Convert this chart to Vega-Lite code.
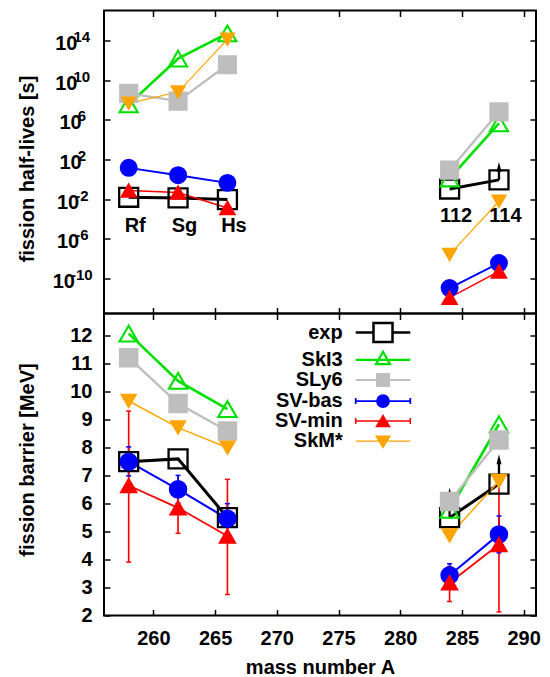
{
  "$schema": "https://vega.github.io/schema/vega-lite/v6.json",
  "padding": {"left": 16, "top": 8.5, "right": 10, "bottom": 2},
  "spacing": 0,
  "bounds": "flush",
  "datasets": {
    "hl": [
      {"A": 258, "s": "exp", "g": "L", "v": 0.0158},
      {"A": 262, "s": "exp", "g": "L", "v": 0.0135},
      {"A": 266, "s": "exp", "g": "L", "v": 0.0093},
      {"A": 284, "s": "exp", "g": "R", "v": 0.107},
      {"A": 288, "s": "exp", "g": "R", "v": 0.89},
      {"A": 258, "s": "SkI3", "g": "L", "v": 3.55e7},
      {"A": 262, "s": "SkI3", "g": "L", "v": 1.41e12},
      {"A": 266, "s": "SkI3", "g": "L", "v": 5.0e14},
      {"A": 284, "s": "SkI3", "g": "R", "v": 1.23},
      {"A": 288, "s": "SkI3", "g": "R", "v": 4.27e5},
      {"A": 258, "s": "SLy6", "g": "L", "v": 4.57e8},
      {"A": 262, "s": "SLy6", "g": "L", "v": 7.59e7},
      {"A": 266, "s": "SLy6", "g": "L", "v": 3.47e11},
      {"A": 284, "s": "SLy6", "g": "R", "v": 8.51},
      {"A": 288, "s": "SLy6", "g": "R", "v": 6.31e6},
      {"A": 258, "s": "SV-bas", "g": "L", "v": 14.5},
      {"A": 262, "s": "SV-bas", "g": "L", "v": 2.63},
      {"A": 266, "s": "SV-bas", "g": "L", "v": 0.447},
      {"A": 284, "s": "SV-bas", "g": "R", "v": 1.15e-11},
      {"A": 288, "s": "SV-bas", "g": "R", "v": 3.8e-9},
      {"A": 258, "s": "SV-min", "g": "L", "v": 0.0759},
      {"A": 262, "s": "SV-min", "g": "L", "v": 0.0479},
      {"A": 266, "s": "SV-min", "g": "L", "v": 0.00135},
      {"A": 284, "s": "SV-min", "g": "R", "v": 1.26e-12},
      {"A": 288, "s": "SV-min", "g": "R", "v": 5.5e-10},
      {"A": 258, "s": "SkM*", "g": "L", "v": 4.47e7},
      {"A": 262, "s": "SkM*", "g": "L", "v": 6.17e8},
      {"A": 266, "s": "SkM*", "g": "L", "v": 1.26e14},
      {"A": 284, "s": "SkM*", "g": "R", "v": 2.69e-8},
      {"A": 288, "s": "SkM*", "g": "R", "v": 0.00631}
    ],
    "fb": [
      {"A": 258, "s": "exp", "g": "L", "v": 7.5},
      {"A": 262, "s": "exp", "g": "L", "v": 7.6},
      {"A": 266, "s": "exp", "g": "L", "v": 5.5},
      {"A": 284, "s": "exp", "g": "R", "v": 5.5},
      {"A": 288, "s": "exp", "g": "R", "v": 6.7},
      {"A": 258, "s": "SkI3", "g": "L", "v": 12.08},
      {"A": 262, "s": "SkI3", "g": "L", "v": 10.39},
      {"A": 266, "s": "SkI3", "g": "L", "v": 9.38},
      {"A": 284, "s": "SkI3", "g": "R", "v": 5.78},
      {"A": 288, "s": "SkI3", "g": "R", "v": 8.84},
      {"A": 258, "s": "SLy6", "g": "L", "v": 11.22},
      {"A": 262, "s": "SLy6", "g": "L", "v": 9.58},
      {"A": 266, "s": "SLy6", "g": "L", "v": 8.6},
      {"A": 284, "s": "SLy6", "g": "R", "v": 6.08},
      {"A": 288, "s": "SLy6", "g": "R", "v": 8.28},
      {"A": 258, "s": "SV-bas", "g": "L", "v": 7.5, "lo": 6.99, "hi": 8.03},
      {"A": 262, "s": "SV-bas", "g": "L", "v": 6.51, "lo": 6.01, "hi": 7.01},
      {"A": 266, "s": "SV-bas", "g": "L", "v": 5.46, "lo": 4.94, "hi": 6.0},
      {"A": 284, "s": "SV-bas", "g": "R", "v": 3.44, "lo": 3.04, "hi": 3.85},
      {"A": 288, "s": "SV-bas", "g": "R", "v": 4.9, "lo": 4.24, "hi": 5.56},
      {"A": 258, "s": "SV-min", "g": "L", "v": 6.65, "lo": 3.91, "hi": 9.31},
      {"A": 262, "s": "SV-min", "g": "L", "v": 5.85, "lo": 4.94, "hi": 6.75},
      {"A": 266, "s": "SV-min", "g": "L", "v": 4.84, "lo": 2.75, "hi": 6.87},
      {"A": 284, "s": "SV-min", "g": "R", "v": 3.17, "lo": 2.5, "hi": 3.75},
      {"A": 288, "s": "SV-min", "g": "R", "v": 4.54, "lo": 2.13, "hi": 6.95},
      {"A": 258, "s": "SkM*", "g": "L", "v": 9.67},
      {"A": 262, "s": "SkM*", "g": "L", "v": 8.72},
      {"A": 266, "s": "SkM*", "g": "L", "v": 8.0},
      {"A": 284, "s": "SkM*", "g": "R", "v": 4.86},
      {"A": 288, "s": "SkM*", "g": "R", "v": 6.81}
    ],
    "arrT": [{"A": 288, "v": 0.89, "tip": 18.2}],
    "arrB": [{"A": 284, "v": 5.5, "tip": 6.39}, {"A": 288, "v": 6.7, "tip": 7.59}],
    "lab": [
      {"A": 258, "t": "Rf", "g": "L"},
      {"A": 262, "t": "Sg", "g": "L"},
      {"A": 266, "t": "Hs", "g": "L"},
      {"A": 284, "t": "112", "g": "R"},
      {"A": 288, "t": "114", "g": "R"}
    ]
  },
  "vconcat": [
    {
      "width": 432,
      "height": 303,
      "data": {"name": "hl"},
      "encoding": {
        "x": {"field": "A", "type": "quantitative", "scale": {"domain": [256, 291], "nice": false, "zero": false}, "axis": null}
      },
      "layer": [
        {
          "mark": {"type": "line"},
          "encoding": {
            "x": {"field": "A", "type": "quantitative", "scale": {"domain": [256, 291], "nice": false, "zero": false},
              "axis": {"orient": "bottom", "values": [260, 265, 270, 275, 280, 285, 290], "labels": false, "title": null}},
            "y": {"field": "v", "type": "quantitative", "scale": {"type": "log", "domain": [3.16e-14, 1e17], "nice": false},
              "axis": {"orient": "left", "values": [1e-10, 1e-6, 0.01, 100, 1e6, 1e10, 1e14],
                "labelExpr": "'10'", "minExtent": 60, "maxExtent": 60, "labelOffset": 3,
                "labelPadding": {"condition": [{"test": "datum.value > 1e9", "value": 33}, {"test": "datum.value > 1", "value": 28.85}, {"test": "datum.value > 1e-8", "value": 31.35}], "value": 35.5},
                "title": "fission half-lives [s]", "titleX": -77, "titleY": 158, "titleAngle": 270, "titleBaseline": "middle", "titleAlign": "center"}},
            "color": {"field": "s", "type": "nominal", "scale": {"domain": ["exp", "SkI3", "SLy6", "SV-bas", "SV-min", "SkM*"], "range": ["#000000", "#00e000", "#bebebe", "#0000ff", "#ff0000", "#ffa500"]}, "legend": null},
            "strokeWidth": {"field": "s", "type": "nominal", "scale": {"domain": ["exp", "SkI3", "SLy6", "SV-bas", "SV-min", "SkM*"], "range": [3, 1.2, 1.5, 1.2, 2.8, 3]}, "legend": null},
            "detail": {"field": "g"}
          }
        },
        {
          "mark": {"type": "point", "opacity": 0},
          "encoding": {
            "y": {"field": "v", "type": "quantitative", "scale": {"type": "log", "domain": [3.16e-14, 1e17], "nice": false},
              "axis": {"orient": "left", "values": [1e-10, 1e-6, 0.01, 100, 1e6, 1e10, 1e14],
                "labelExpr": "replace(format(round(log(datum.value)/LN10), 'd'), '−', '-')", "labelFontSize": 15, "minExtent": 60, "maxExtent": 60, "ticks": false, "labelOffset": -4,
                "labelPadding": {"condition": [{"test": "datum.value > 1e9", "value": 14.3}, {"test": "datum.value > 1", "value": 18.5}, {"test": "datum.value > 1e-8", "value": 16}], "value": 11.8},
                "title": null}}
          }
        },
        {
          "data": {"name": "arrT"},
          "mark": {"type": "rule", "color": "black", "strokeWidth": 2.3},
          "encoding": {
            "y": {"field": "v", "type": "quantitative", "scale": {"type": "log", "domain": [3.16e-14, 1e17], "nice": false}, "axis": null},
            "y2": {"field": "tip"}
          }
        },
        {
          "data": {"name": "arrT"},
          "mark": {"type": "point", "shape": "M0,-1L-0.5,1L0.5,1Z", "filled": true, "color": "black", "size": 100, "opacity": 1},
          "encoding": {"y": {"field": "tip", "type": "quantitative", "scale": {"type": "log", "domain": [3.16e-14, 1e17], "nice": false}, "axis": null}}
        },
        {
          "mark": {"type": "point", "opacity": 1, "filled": false},
          "encoding": {
            "y": {"field": "v", "type": "quantitative", "scale": {"type": "log", "domain": [3.16e-14, 1e17], "nice": false}, "axis": null},
            "shape": {"field": "s", "type": "nominal", "scale": {"domain": ["exp", "SkI3", "SLy6", "SV-bas", "SV-min", "SkM*"], "range": ["square", "triangle-up", "square", "circle", "triangle-up", "triangle-down"]}, "legend": null},
            "fill": {"field": "s", "type": "nominal", "scale": {"domain": ["exp", "SkI3", "SLy6", "SV-bas", "SV-min", "SkM*"], "range": ["transparent", "transparent", "#bebebe", "#0000ff", "#ff0000", "#ffa500"]}, "legend": null},
            "color": {"field": "s", "type": "nominal", "scale": {"domain": ["exp", "SkI3", "SLy6", "SV-bas", "SV-min", "SkM*"], "range": ["#000000", "#00e000", "#bebebe", "#0000ff", "#ff0000", "#ffa500"]}, "legend": null},
            "size": {"field": "s", "type": "nominal", "scale": {"domain": ["exp", "SkI3", "SLy6", "SV-bas", "SV-min", "SkM*"], "range": [360, 200, 130, 110, 150, 165]}, "legend": null},
            "strokeWidth": {"field": "s", "type": "nominal", "scale": {"domain": ["exp", "SkI3", "SLy6", "SV-bas", "SV-min", "SkM*"], "range": [2.3, 1.3, 1, 1, 1, 1]}, "legend": null}
          }
        },
        {
          "data": {"name": "lab"},
          "transform": [{"filter": "datum.g == 'L'"}],
          "mark": {"type": "text", "font": "Liberation Sans", "fontSize": 20, "fontWeight": "bold", "dx": 6.5, "baseline": "middle", "color": "black"},
          "encoding": {"y": {"datum": 1.9e-5, "type": "quantitative", "scale": {"type": "log", "domain": [3.16e-14, 1e17], "nice": false}, "axis": null}, "text": {"field": "t"}}
        },
        {
          "data": {"name": "lab"},
          "transform": [{"filter": "datum.g == 'R'"}],
          "mark": {"type": "text", "font": "Liberation Sans", "fontSize": 20, "fontWeight": "bold", "dx": 6.5, "baseline": "middle", "color": "black"},
          "encoding": {"y": {"datum": 1.95e-4, "type": "quantitative", "scale": {"type": "log", "domain": [3.16e-14, 1e17], "nice": false}, "axis": null}, "text": {"field": "t"}}
        },
        {
          "mark": {"type": "point", "opacity": 0},
          "encoding": {
            "x": {"field": "A", "type": "quantitative", "scale": {"domain": [256, 291], "nice": false, "zero": false},
              "axis": {"orient": "top", "values": [260, 265, 270, 275, 280, 285, 290], "labels": false, "title": null}},
            "y": {"field": "v", "type": "quantitative", "scale": {"type": "log", "domain": [3.16e-14, 1e17], "nice": false},
              "axis": {"orient": "right", "values": [1e-10, 1e-6, 0.01, 100, 1e6, 1e10, 1e14], "labels": false, "title": null}}
          }
        }
      ],
      "resolve": {"axis": {"x": "independent", "y": "independent"}, "scale": {"strokeWidth": "independent"}}
    },
    {
      "width": 432,
      "height": 302,
      "data": {"name": "fb"},
      "encoding": {
        "x": {"field": "A", "type": "quantitative", "scale": {"domain": [256, 291], "nice": false, "zero": false}, "axis": null}
      },
      "layer": [
        {
          "transform": [{"filter": "isValid(datum.lo)"}],
          "mark": {"type": "rule"},
          "encoding": {
            "y": {"field": "lo", "type": "quantitative", "scale": {"domain": [2, 12.8], "nice": false, "zero": false}, "axis": null},
            "y2": {"field": "hi"},
            "color": {"field": "s", "type": "nominal", "scale": {"domain": ["exp", "SkI3", "SLy6", "SV-bas", "SV-min", "SkM*", "-"], "range": ["#000000", "#00e000", "#bebebe", "#0000ff", "#ff0000", "#ffa500", "#000000"]}, "legend": null},
            "strokeWidth": {"field": "s", "type": "nominal", "scale": {"domain": ["exp", "SkI3", "SLy6", "SV-bas", "SV-min", "SkM*", "-"], "range": [2.5, 1.2, 1.3, 1.2, 2.5, 2.2, 1]}, "legend": null}
          }
        },
        {
          "transform": [{"filter": "isValid(datum.lo)"}],
          "mark": {"type": "point", "shape": "stroke", "size": 25, "opacity": 1, "strokeWidth": 1.5, "filled": false},
          "encoding": {
            "y": {"field": "lo", "type": "quantitative", "scale": {"domain": [2, 12.8], "nice": false, "zero": false}, "axis": null},
            "color": {"field": "s", "type": "nominal", "scale": {"domain": ["exp", "SkI3", "SLy6", "SV-bas", "SV-min", "SkM*", "-"], "range": ["#000000", "#00e000", "#bebebe", "#0000ff", "#ff0000", "#ffa500", "#000000"]}, "legend": null}
          }
        },
        {
          "transform": [{"filter": "isValid(datum.lo)"}],
          "mark": {"type": "point", "shape": "stroke", "size": 25, "opacity": 1, "strokeWidth": 1.5, "filled": false},
          "encoding": {
            "y": {"field": "hi", "type": "quantitative", "scale": {"domain": [2, 12.8], "nice": false, "zero": false}, "axis": null},
            "color": {"field": "s", "type": "nominal", "scale": {"domain": ["exp", "SkI3", "SLy6", "SV-bas", "SV-min", "SkM*", "-"], "range": ["#000000", "#00e000", "#bebebe", "#0000ff", "#ff0000", "#ffa500", "#000000"]}, "legend": null}
          }
        },
        {
          "mark": {"type": "line"},
          "encoding": {
            "x": {"field": "A", "type": "quantitative", "scale": {"domain": [256, 291], "nice": false, "zero": false},
              "axis": {"orient": "bottom", "values": [260, 265, 270, 275, 280, 285, 290], "labelBaseline": "alphabetic", "labelPadding": 35,
                "title": "mass number A", "titleY": 58, "titleBaseline": "alphabetic"}},
            "y": {"field": "v", "type": "quantitative", "scale": {"domain": [2, 12.8], "nice": false, "zero": false},
              "axis": {"orient": "left", "values": [2, 3, 4, 5, 6, 7, 8, 9, 10, 11, 12], "labelPadding": 18, "minExtent": 60, "maxExtent": 60,
                "title": "fission barrier [MeV]", "titleX": -77, "titleY": 146, "titleAngle": 270, "titleBaseline": "middle", "titleAlign": "center"}},
            "color": {"field": "s", "type": "nominal", "scale": {"domain": ["exp", "SkI3", "SLy6", "SV-bas", "SV-min", "SkM*", "-"], "range": ["#000000", "#00e000", "#bebebe", "#0000ff", "#ff0000", "#ffa500", "#000000"]}, "legend": null},
            "strokeWidth": {"field": "s", "type": "nominal", "scale": {"domain": ["exp", "SkI3", "SLy6", "SV-bas", "SV-min", "SkM*", "-"], "range": [3, 1.2, 1.5, 1.2, 2.8, 3, 1]}, "legend": null},
            "detail": {"field": "g"}
          }
        },
        {
          "data": {"name": "arrB"},
          "mark": {"type": "rule", "color": "black", "strokeWidth": 2.3},
          "encoding": {
            "y": {"field": "v", "type": "quantitative", "scale": {"domain": [2, 12.8], "nice": false, "zero": false}, "axis": null},
            "y2": {"field": "tip"}
          }
        },
        {
          "data": {"name": "arrB"},
          "mark": {"type": "point", "shape": "M0,-1L-0.5,1L0.5,1Z", "filled": true, "color": "black", "size": 100, "opacity": 1},
          "encoding": {"y": {"field": "tip", "type": "quantitative", "scale": {"domain": [2, 12.8], "nice": false, "zero": false}, "axis": null}}
        },
        {
          "mark": {"type": "point", "opacity": 1, "filled": false},
          "encoding": {
            "y": {"field": "v", "type": "quantitative", "scale": {"domain": [2, 12.8], "nice": false, "zero": false}, "axis": null},
            "shape": {"field": "s", "type": "nominal", "scale": {"domain": ["exp", "SkI3", "SLy6", "SV-bas", "SV-min", "SkM*", "-"], "range": ["square", "triangle-up", "square", "circle", "triangle-up", "triangle-down", "circle"]}, "legend": null},
            "fill": {"field": "s", "type": "nominal", "scale": {"domain": ["exp", "SkI3", "SLy6", "SV-bas", "SV-min", "SkM*", "-"], "range": ["transparent", "transparent", "#bebebe", "#0000ff", "#ff0000", "#ffa500", "#000000"]}, "legend": null},
            "color": {"field": "s", "type": "nominal", "scale": {"domain": ["exp", "SkI3", "SLy6", "SV-bas", "SV-min", "SkM*", "-"], "range": ["#000000", "#00e000", "#bebebe", "#0000ff", "#ff0000", "#ffa500", "#000000"]}, "legend": null},
            "size": {"field": "s", "type": "nominal", "scale": {"domain": ["exp", "SkI3", "SLy6", "SV-bas", "SV-min", "SkM*", "-"], "range": [360, 200, 130, 110, 150, 165, 100]}, "legend": null},
            "strokeWidth": {"field": "s", "type": "nominal", "scale": {"domain": ["exp", "SkI3", "SLy6", "SV-bas", "SV-min", "SkM*", "-"], "range": [2.3, 1.3, 1, 1, 1, 1, 1]}, "legend": null}
          }
        },
        {
          "mark": {"type": "point", "opacity": 0, "filled": false},
          "encoding": {
            "y": {"field": "v", "type": "quantitative", "scale": {"domain": [2, 12.8], "nice": false, "zero": false}, "axis": null},
            "shape": {"field": "s", "type": "nominal",
              "scale": {"domain": ["exp", "SkI3", "SLy6", "SV-bas", "SV-min", "SkM*"], "range": [
                "M-5.46,0H-1.9M1.9,0H5.46M-1.9,-1.9H1.9V1.9H-1.9Z",
                "M-5.46,0H5.46M0,-1.6L1.4,0.87H-1.4Z",
                "M-5.46,0H5.46M-1.2,-1.2H1.2V1.2H-1.2Z",
                "M-5.46,0H5.46M-5.46,-0.6V0.6M5.46,-0.6V0.6M-1.2,0A1.2,1.2,0,1,0,1.2,0A1.2,1.2,0,1,0,-1.2,0Z",
                "M-5.46,0H5.46M-5.46,-0.6V0.6M5.46,-0.6V0.6M0,-1.1L1.3,1.1H-1.3Z",
                "M-5.46,0H5.46M-1.4,-1H1.4L0,1.3Z"]},
              "legend": {"orient": "none", "legendX": 269, "legendY": 9, "title": null, "padding": 0, "rowPadding": -0.7,
                "labelAlign": "right", "labelOffset": -50.3, "labelFont": "Liberation Sans", "labelFontSize": 20, "labelFontWeight": "bold", "labelColor": "black", "labelLimit": 300, "symbolSize": 100, "symbolOpacity": 1}},
            "stroke": {"field": "s", "type": "nominal", "scale": {"domain": ["exp", "SkI3", "SLy6", "SV-bas", "SV-min", "SkM*"], "range": ["#000000", "#00e000", "#bebebe", "#0000ff", "#ff0000", "#ffa500"]},
              "legend": {"orient": "none", "legendX": 269, "legendY": 9, "title": null, "padding": 0, "rowPadding": -0.7,
                "labelAlign": "right", "labelOffset": -50.3, "labelFont": "Liberation Sans", "labelFontSize": 20, "labelFontWeight": "bold", "labelColor": "black", "labelLimit": 300, "symbolSize": 100, "symbolOpacity": 1}},
            "fill": {"field": "s", "type": "nominal", "scale": {"domain": ["exp", "SkI3", "SLy6", "SV-bas", "SV-min", "SkM*"], "range": ["transparent", "transparent", "#bebebe", "#0000ff", "#ff0000", "#ffa500"]},
              "legend": {"orient": "none", "legendX": 269, "legendY": 9, "title": null, "padding": 0, "rowPadding": -0.7,
                "labelAlign": "right", "labelOffset": -50.3, "labelFont": "Liberation Sans", "labelFontSize": 20, "labelFontWeight": "bold", "labelColor": "black", "labelLimit": 300, "symbolSize": 100, "symbolOpacity": 1}},
            "strokeWidth": {"field": "s", "type": "nominal", "scale": {"domain": ["exp", "SkI3", "SLy6", "SV-bas", "SV-min", "SkM*"], "range": [2.5, 1.3, 1.3, 1.3, 2.5, 2.5]},
              "legend": {"orient": "none", "legendX": 269, "legendY": 9, "title": null, "padding": 0, "rowPadding": -0.7,
                "labelAlign": "right", "labelOffset": -50.3, "labelFont": "Liberation Sans", "labelFontSize": 20, "labelFontWeight": "bold", "labelColor": "black", "labelLimit": 300, "symbolSize": 100, "symbolOpacity": 1}}
          }
        },
        {
          "mark": {"type": "point", "opacity": 0},
          "encoding": {
            "x": {"field": "A", "type": "quantitative", "scale": {"domain": [256, 291], "nice": false, "zero": false},
              "axis": {"orient": "top", "values": [260, 265, 270, 275, 280, 285, 290], "labels": false, "title": null}},
            "y": {"field": "v", "type": "quantitative", "scale": {"domain": [2, 12.8], "nice": false, "zero": false},
              "axis": {"orient": "right", "values": [2, 3, 4, 5, 6, 7, 8, 9, 10, 11, 12], "labels": false, "title": null}}
          }
        }
      ],
      "resolve": {"axis": {"x": "independent", "y": "independent"}, "scale": {"strokeWidth": "independent", "shape": "independent", "fill": "independent", "stroke": "independent", "color": "independent", "size": "independent"}}
    }
  ],
  "resolve": {"scale": {"color": "independent", "stroke": "independent", "fill": "independent", "shape": "independent", "size": "independent", "strokeWidth": "independent"}},
  "config": {
    "font": "Liberation Sans",
    "view": {"stroke": "black", "strokeWidth": 2},
    "axis": {"domain": false, "grid": false, "ticks": true, "tickSize": -6, "tickWidth": 1.5, "tickColor": "black",
      "labelFont": "Liberation Sans", "labelFontSize": 20, "labelFontWeight": "bold", "labelColor": "black",
      "titleFont": "Liberation Sans", "titleFontSize": 20, "titleFontWeight": "bold", "titleColor": "black",
      "labelFlush": false, "labelOverlap": false}
  }
}
